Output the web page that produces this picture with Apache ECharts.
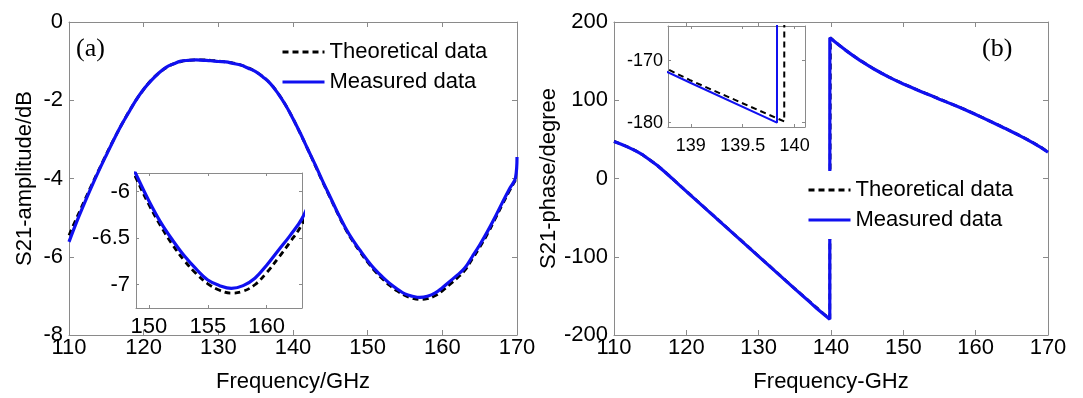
<!DOCTYPE html>
<html>
<head>
<meta charset="utf-8">
<script src="https://cdn.jsdelivr.net/npm/echarts@6/dist/echarts.min.js"></script>
<style>
html,body{margin:0;padding:0;background:#fff;}
#c{width:1083px;height:398px;}
</style>
</head>
<body>
<div id="c"></div>
<script>
// ---------- DATA ----------
const freqAmp = [110,111,112,113,114,115,116,117,118,119,120,121,122,123,124,125,126,127,128,129,130,
  131,132,133,134,135,136,137,138,139,140,141,142,143,144,145,146,147,148,149,150,
  151,152,153,154,155,156,157,158,159,160,161,162,163,164,165,166,167,168,169,169.8,170];
const ampTheo = [-5.45,-5.02,-4.6,-4.18,-3.78,-3.38,-3.0,-2.64,-2.3,-1.99,-1.72,-1.49,-1.31,-1.17,-1.07,-1.01,-0.98,-0.97,-0.97,-0.98,-1.0,
  -1.02,-1.05,-1.1,-1.17,-1.27,-1.4,-1.58,-1.82,-2.12,-2.47,-2.86,-3.26,-3.68,-4.1,-4.5,-4.9,-5.28,-5.6,-5.88,-6.14,
  -6.37,-6.57,-6.74,-6.88,-6.99,-7.06,-7.09,-7.07,-7.0,-6.87,-6.71,-6.54,-6.35,-6.06,-5.76,-5.43,-5.06,-4.68,-4.31,-4.04,-3.98];
const ampMeas = [-5.62,-5.12,-4.66,-4.22,-3.8,-3.4,-3.01,-2.64,-2.31,-1.99,-1.72,-1.5,-1.31,-1.16,-1.07,-1.0,-0.98,-0.97,-0.98,-0.99,-1.01,
  -1.02,-1.06,-1.1,-1.18,-1.27,-1.41,-1.58,-1.83,-2.12,-2.47,-2.85,-3.26,-3.66,-4.08,-4.48,-4.88,-5.25,-5.57,-5.84,-6.1,
  -6.33,-6.52,-6.69,-6.83,-6.95,-7.01,-7.04,-7.01,-6.93,-6.79,-6.63,-6.47,-6.29,-6.0,-5.7,-5.37,-5.01,-4.63,-4.26,-3.98,-3.45];

const freqPhase = [110,111,112,113,114,115,116,117,118,119,120,121,122,123,124,125,126,127,128,129,130,
  131,132,133,134,135,136,137,138,139,139.83,139.84,139.9,139.91,140,
  141,142,143,144,145,146,147,148,149,150,151,152,153,154,155,156,157,158,159,160,
  161,162,163,164,165,166,167,168,169,170];
const phaseTheo = [47.5,44,40,35.5,30,23.5,16.5,8.8,0.5,-8,-16.3,-24.6,-32.9,-41.2,-49.5,-57.8,-66.1,-74.4,-82.7,-91,-99.3,
  -107.6,-115.9,-124.2,-132.5,-140.8,-148.8,-156.8,-165.0,-173.2,-179.3,-179.4,-179.8,179.9,179.3,
  171.5,164.2,157.5,151.2,145.3,139.8,134.6,129.8,125.2,121,117,113,109.2,105.4,101.6,97.8,94,90.2,86.2,82,
  77.7,73.3,68.9,64.5,60,55.4,50.6,45.5,40,34];
const phaseMeas = [47.2,43.8,39.8,35.3,30.1,23.4,16.6,8.6,0.4,-8.2,-16.4,-24.8,-33.0,-41.4,-49.6,-58.0,-66.3,-74.6,-82.9,-91.2,-99.5,
  -107.8,-116.1,-124.5,-132.8,-141.1,-149.2,-157.3,-165.8,-173.6,-180,180,179.6,179.5,179.1,
  171.3,164.1,157.3,151.0,145.2,139.6,134.5,129.6,125.1,120.8,116.9,112.8,109.0,105.3,101.4,97.6,93.8,90.0,86.0,81.8,
  77.5,73.1,68.7,64.3,59.8,55.2,50.4,45.3,39.8,33.6];

const ampInsetXTicks = [150,155,160];
const ampInsetYTicks = [-7,-6.5,-6];
const phaseInsetXTicks = [139,139.5,140];
const phaseInsetYTicks = [-180,-170];

const seriesNames = ['Theoretical data','Measured data'];

// ---------- CHART ----------
const chart = echarts.init(document.getElementById('c'), null, {renderer:'canvas'});
const FONT = 'Liberation Sans';
const GRAY = '#8a8a8a';
const BLUE = '#1010f0';

const grids = [
  {left:69, top:22, width:448, height:318},
  {left:614, top:22, width:434, height:318},
  {left:136, top:173, width:166, height:135},
  {left:668, top:26, width:137, height:101}
];

function xPair(g, opt) {
  const base = {
    type:'value', gridIndex:g, min:opt.min, max:opt.max,
    splitLine:{show:false},
    axisLine:{show:true, onZero:false, lineStyle:{color:GRAY, width:1}},
  };
  const tick = opt.ticks ? {customValues:opt.ticks} : {};
  if (opt.interval) base.interval = opt.interval;
  const bottom = Object.assign({}, base, {
    position:'bottom',
    axisTick:Object.assign({inside:true, length:opt.tl, lineStyle:{color:GRAY}}, tick),
    axisLabel:Object.assign({show:true, color:'#000', fontFamily:FONT, fontSize:opt.fs, margin:opt.margin,
      showMinLabel:true, showMaxLabel:true, hideOverlap:false}, tick),
    name:opt.name||'', nameLocation:'middle', nameGap:opt.nameGap||0,
    nameTextStyle:{color:'#000', fontFamily:FONT, fontSize:22}
  });
  const top = Object.assign({}, base, {
    position:'top',
    axisTick:Object.assign({inside:true, length:opt.tl, lineStyle:{color:GRAY}}, tick),
    axisLabel:{show:false}
  });
  return [bottom, top];
}
function yPair(g, opt) {
  const base = {
    type:'value', gridIndex:g, min:opt.min, max:opt.max,
    splitLine:{show:false},
    axisLine:{show:true, onZero:false, lineStyle:{color:GRAY, width:1}},
  };
  const tick = opt.ticks ? {customValues:opt.ticks} : {};
  if (opt.interval) base.interval = opt.interval;
  const left = Object.assign({}, base, {
    position:'left',
    axisTick:Object.assign({inside:true, length:opt.tl, lineStyle:{color:GRAY}}, tick),
    axisLabel:Object.assign({show:true, color:'#000', fontFamily:FONT, fontSize:opt.fs, margin:opt.margin,
      showMinLabel:true, showMaxLabel:true, hideOverlap:false}, tick),
    name:opt.name||'', nameLocation:'middle', nameGap:opt.nameGap||0,
    nameTextStyle:{color:'#000', fontFamily:FONT, fontSize:22}
  });
  const right = Object.assign({}, base, {
    position:'right',
    axisTick:Object.assign({inside:true, length:opt.tl, lineStyle:{color:GRAY}}, tick),
    axisLabel:{show:false}
  });
  return [left, right];
}

const xAxes = [].concat(
  xPair(0, {min:110, max:170, interval:10, fs:22, tl:5, margin:2, name:'Frequency/GHz', nameGap:36}),
  xPair(1, {min:110, max:170, interval:10, fs:22, tl:5, margin:2, name:'Frequency-GHz', nameGap:36}),
  xPair(2, {min:148.9, max:163, ticks:ampInsetXTicks, fs:22, tl:3, margin:8}),
  xPair(3, {min:138.78, max:140.1, ticks:phaseInsetXTicks, fs:18, tl:3, margin:10})
);
const yAxes = [].concat(
  yPair(0, {min:-8, max:0, interval:2, fs:22, tl:5, margin:6, name:'S21-amplitude/dB', nameGap:33}),
  yPair(1, {min:-200, max:200, interval:100, fs:22, tl:5, margin:6, name:'S21-phase/degree', nameGap:54}),
  yPair(2, {min:-7.25, max:-5.8, ticks:ampInsetYTicks, fs:22, tl:3, margin:6}),
  yPair(3, {min:-180.7, max:-164.4, ticks:phaseInsetYTicks, fs:18, tl:3, margin:5})
);

function pairs(xs, ys){ return xs.map((x,i)=>[x, ys[i]]); }
const ampTheoPts = pairs(freqAmp, ampTheo);
const ampMeasPts = pairs(freqAmp, ampMeas);
const phTheoPts = pairs(freqPhase, phaseTheo);
const phMeasPts = pairs(freqPhase, phaseMeas);

function lineSeries(name, pts, axisIdx, isTheo, w, smooth) {
  return {
    name:name, type:'line', data:pts,
    xAxisIndex:axisIdx*2, yAxisIndex:axisIdx*2,
    symbol:'none', smooth:smooth, clip:true, animation:false,
    lineStyle: isTheo ? {color:'#000', width:w, type:[6,4]} : {color:BLUE, width:w},
    itemStyle:{color: isTheo ? '#000' : BLUE},
    z: isTheo ? 2 : 3
  };
}

const series = [
  lineSeries(seriesNames[0], ampTheoPts, 0, true, 2.8, 0.4),
  lineSeries(seriesNames[1], ampMeasPts, 0, false, 3.2, 0.4),
  lineSeries(seriesNames[0], phTheoPts, 1, true, 2.8, false),
  lineSeries(seriesNames[1], phMeasPts, 1, false, 3.2, false),
  lineSeries(seriesNames[0], ampTheoPts, 2, true, 2.8, 0.4),
  lineSeries(seriesNames[1], ampMeasPts, 2, false, 3.2, 0.4),
  lineSeries(seriesNames[0], phTheoPts, 3, true, 2, false),
  lineSeries(seriesNames[1], phMeasPts, 3, false, 2, false)
];

const legendCommon = {
  orient:'vertical', itemGap:8, itemWidth:42, itemHeight:14, selectedMode:false,
  itemStyle:{opacity:0, borderWidth:0},
  lineStyle:{width:3},
  textStyle:{color:'#000', fontFamily:FONT, fontSize:22, lineHeight:22},
  data:seriesNames
};

chart.setOption({
  animation:false,
  backgroundColor:'#fff',
  grid:grids.map(g=>Object.assign({show:false, containLabel:false}, g)),
  xAxis:xAxes,
  yAxis:yAxes,
  legend:[
    Object.assign({}, legendCommon, {left:276, top:36, padding:[5,5,5,5], backgroundColor:'transparent'}),
    Object.assign({}, legendCommon, {left:799, top:171, padding:[8,8,8,8], backgroundColor:'#fff'})
  ],
  graphic:[
    {type:'text', left:76, top:36, style:{text:'(a)', fontFamily:'Liberation Serif', fontSize:26, fill:'#000'}},
    {type:'text', left:982, top:36, style:{text:'(b)', fontFamily:'Liberation Serif', fontSize:26, fill:'#000'}}
  ],
  series:series
});
</script>
</body>
</html>
